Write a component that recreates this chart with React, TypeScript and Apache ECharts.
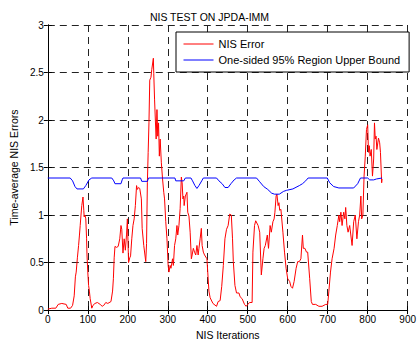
import React, { useEffect, useRef } from "react";
import * as echarts from "echarts";

const titleText = "NIS TEST ON JPDA-IMM";
const xName = "NIS Iterations";
const yName = "Time-average NIS Errors";
const seriesNames = ["NIS Error", "One-sided 95% Region Upper Bound"];

const nisX = [0,10,20,26,35,46,50,57,62,66,69,71,74,77,79,81,83,85,88,90,91,93,95,97,98,100,102,104,106,110,113,118,124,131,136,140,145,150,158,162,164,166,168,172,176,180,183,185,188,191,194,197,199,202,205,207,210,213,216,219,222,224,227,230,234,236,240,245,247,249,251,253,255,258,260,264,265,267,269,271,273,275,277,279,281,284,287,290,292,295,298,301,303,306,308,312,314,317,320,323,325,328,331,334,336,338,340,341,344,348,350,353,356,359,361,364,367,370,373,376,378,381,384,386,389,392,398,400,403,406,413,422,426,431,435,439,443,447,451,455,459,462,464,468,472,478,481,486,492,496,500,505,511,513,517,520,526,530,534,538,541,544,549,552,556,559,563,566,568,571,573,576,578,580,583,588,592,596,600,605,608,612,616,621,625,629,633,637,639,643,647,650,655,659,662,670,678,686,695,700,703,707,711,716,720,724,728,730,733,736,740,743,745,748,751,755,761,765,769,773,777,780,783,785,788,791,794,797,800,802,804,806,809,812,815,817,819,821,823,827,830,832,835,836];
const nisY = [0.01,0.02,0.02,0.06,0.07,0.06,0.02,0.02,0.05,0.15,0.35,0.4,0.55,0.68,0.78,0.89,1.0,1.1,1.19,1.05,0.98,1.0,0.96,0.75,0.58,0.4,0.26,0.2,0.12,0.02,0.05,0.07,0.08,0.06,0.04,0.05,0.08,0.07,0.09,0.2,0.33,0.55,0.67,0.66,0.67,0.75,0.89,0.85,0.6,0.75,0.63,0.8,0.96,0.5,0.55,0.57,0.75,0.89,0.96,1.1,1.31,1.27,1.29,1.28,1.17,0.86,0.68,0.51,0.7,1.34,1.66,1.97,2.42,2.45,2.53,2.65,2.49,2.22,2.0,1.8,2.11,1.83,1.97,1.62,1.8,1.55,1.38,1.24,1.17,0.93,0.75,0.47,0.4,0.47,0.44,0.54,0.47,0.68,0.75,0.89,0.79,0.89,1.07,1.4,1.34,1.17,1.2,1.1,1.2,1.24,1.03,0.99,0.82,0.54,0.58,0.65,0.61,0.58,0.68,0.58,0.65,0.75,0.86,0.68,0.61,0.58,0.54,0.4,0.2,0.13,0.07,0.04,0.09,0.1,0.25,0.47,0.75,0.85,0.89,1.01,1.0,0.75,0.51,0.26,0.18,0.18,0.14,0.12,0.06,0.04,0.06,0.08,0.08,0.61,0.89,0.94,0.89,0.82,0.37,0.54,0.65,0.68,0.79,0.65,0.89,0.82,0.93,0.96,1.03,1.2,1.22,1.1,1.13,1.05,1.06,0.82,0.61,0.44,0.33,0.3,0.25,0.23,0.3,0.44,0.51,0.51,0.54,0.79,0.65,0.65,0.61,0.61,0.33,0.09,0.06,0.06,0.04,0.04,0.06,0.06,0.2,0.4,0.54,0.65,0.79,0.89,1.0,0.93,1.03,0.89,1.03,0.96,1.08,0.89,0.82,0.89,0.68,0.93,1.0,0.75,0.93,1.0,1.2,0.96,1.0,1.41,1.62,1.9,1.95,1.66,1.73,1.62,1.69,1.41,1.59,1.97,1.8,1.83,1.69,1.81,1.76,1.66,1.34,1.38];

const boundX = [0,56,62,68,73,89,95,103,110,160,165,168,183,186,188,232,235,249,252,318,320,340,344,358,362,368,373,378,385,389,422,428,436,443,451,458,466,472,522,530,540,550,560,567,579,590,597,613,629,637,645,651,699,705,715,728,765,775,782,800,805,815,822,836];
const boundY = [1.39,1.39,1.36,1.3,1.275,1.275,1.31,1.37,1.39,1.39,1.36,1.33,1.33,1.37,1.39,1.39,1.355,1.355,1.39,1.39,1.36,1.36,1.39,1.39,1.36,1.31,1.28,1.31,1.36,1.39,1.39,1.36,1.33,1.29,1.29,1.33,1.37,1.39,1.39,1.35,1.3,1.27,1.23,1.22,1.22,1.25,1.26,1.275,1.31,1.33,1.36,1.39,1.39,1.34,1.3,1.285,1.285,1.33,1.39,1.39,1.37,1.37,1.38,1.39];

const FONT = "Liberation Sans, Arial, Helvetica, sans-serif";

export default function App() {
  const ref = useRef<HTMLDivElement>(null);
  useEffect(() => {
    if (!ref.current) return;
    const chart = echarts.init(ref.current, undefined, { renderer: "svg" });
    const nisData = nisX.map((x, i) => [x, nisY[i]]);
    const boundData = boundX.map((x, i) => [x, boundY[i]]);
    const grid = "#222";
    chart.setOption({
      animation: false,
      backgroundColor: "#fff",
      textStyle: { fontFamily: FONT },
      title: {
        text: titleText,
        left: "center",
        top: 6,
        textStyle: { fontSize: 10.5, fontWeight: "normal", color: "#000", fontFamily: FONT },
      },
      legend: {
        orient: "vertical",
        left: 176,
        top: 32,
        padding: [6, 9, 6, 7],
        itemGap: 4,
        itemWidth: 30,
        itemHeight: 12,
        backgroundColor: "#fff",
        borderColor: "#000",
        borderWidth: 1,
        borderRadius: 0,
        itemStyle: { opacity: 0 },
        lineStyle: { width: 1 },
        textStyle: { fontSize: 11, color: "#000", fontFamily: FONT, lineHeight: 12 },
        data: seriesNames,
      },
      grid: { left: 46, right: 10, top: 25, bottom: 33 },
      xAxis: [
        {
          type: "value",
          min: 0,
          max: 900,
          interval: 100,
          name: xName,
          nameLocation: "middle",
          nameGap: 18,
          nameTextStyle: { fontSize: 10.5, color: "#000", fontFamily: FONT },
          axisLine: { show: true, lineStyle: { color: "#000", width: 1 } },
          axisTick: { show: true, inside: true, length: 4, lineStyle: { color: "#000" } },
          axisLabel: { fontSize: 10, color: "#000", margin: 4, fontFamily: FONT },
          splitLine: { show: true, lineStyle: { color: grid, type: [7, 5], width: 1 } },
        },
        {
          type: "value",
          position: "top",
          min: 0,
          max: 900,
          interval: 100,
          axisLine: { show: true, lineStyle: { color: "#000", width: 1 } },
          axisTick: { show: true, inside: true, length: 4, lineStyle: { color: "#000" } },
          axisLabel: { show: false },
          splitLine: { show: false },
        },
      ],
      yAxis: [
        {
          type: "value",
          min: 0,
          max: 3,
          interval: 0.5,
          name: yName,
          nameLocation: "middle",
          nameGap: 26,
          nameTextStyle: { fontSize: 10.5, color: "#000", fontFamily: FONT },
          axisLine: { show: true, lineStyle: { color: "#000", width: 1 } },
          axisTick: { show: true, inside: true, length: 4, lineStyle: { color: "#000" } },
          axisLabel: { fontSize: 10, color: "#000", margin: 4, fontFamily: FONT },
          splitLine: { show: true, lineStyle: { color: grid, type: [7, 5], width: 1 } },
        },
        {
          type: "value",
          position: "right",
          min: 0,
          max: 3,
          interval: 0.5,
          axisLine: { show: true, lineStyle: { color: "#000", width: 1 } },
          axisTick: { show: true, inside: true, length: 4, lineStyle: { color: "#000" } },
          axisLabel: { show: false },
          splitLine: { show: false },
        },
      ],
      series: [
        {
          name: seriesNames[0],
          type: "line",
          xAxisIndex: 0,
          yAxisIndex: 0,
          data: nisData,
          symbol: "none",
          lineStyle: { color: "#ff0000", width: 1 },
          itemStyle: { color: "#ff0000" },
          z: 3,
        },
        {
          name: seriesNames[1],
          type: "line",
          xAxisIndex: 0,
          yAxisIndex: 0,
          data: boundData,
          symbol: "none",
          lineStyle: { color: "#0000ff", width: 1 },
          itemStyle: { color: "#0000ff" },
          z: 3,
        },
      ],
    });
    return () => chart.dispose();
  }, []);
  return <div ref={ref} style={{ width: 419, height: 345, position: "absolute", left: 0, top: 0 }} />;
}
